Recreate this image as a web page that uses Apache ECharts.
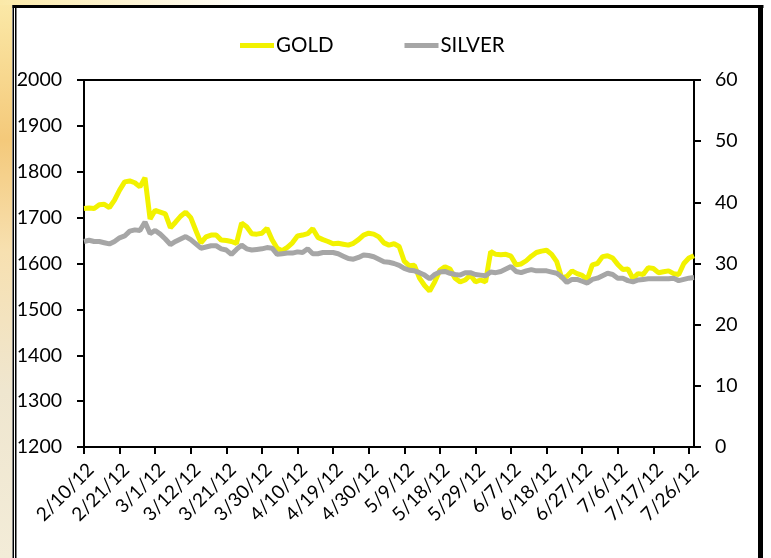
<!DOCTYPE html>
<html>
<head>
<meta charset="utf-8">
<script src="https://cdn.jsdelivr.net/npm/echarts@6/dist/echarts.min.js"></script>
<style>
html,body{margin:0;padding:0;background:#fff;}
#c{width:771px;height:558px;}
</style>
</head>
<body>
<div id="c"></div>
<script>
var dates = [
'2/10/12','2/13/12','2/14/12','2/15/12','2/16/12','2/17/12','2/20/12','2/21/12','2/22/12','2/23/12','2/24/12','2/27/12','2/28/12','2/29/12',
'3/1/12','3/2/12','3/5/12','3/6/12','3/7/12','3/8/12','3/9/12','3/12/12','3/13/12','3/14/12','3/15/12','3/16/12','3/19/12','3/20/12','3/21/12','3/22/12','3/23/12','3/26/12','3/27/12','3/28/12','3/29/12','3/30/12',
'4/2/12','4/3/12','4/4/12','4/5/12','4/6/12','4/9/12','4/10/12','4/11/12','4/12/12','4/13/12','4/16/12','4/17/12','4/18/12','4/19/12','4/20/12','4/23/12','4/24/12','4/25/12','4/26/12','4/27/12','4/30/12',
'5/1/12','5/2/12','5/3/12','5/4/12','5/7/12','5/8/12','5/9/12','5/10/12','5/11/12','5/14/12','5/15/12','5/16/12','5/17/12','5/18/12','5/21/12','5/22/12','5/23/12','5/24/12','5/25/12','5/28/12','5/29/12','5/30/12','5/31/12',
'6/1/12','6/4/12','6/5/12','6/6/12','6/7/12','6/8/12','6/11/12','6/12/12','6/13/12','6/14/12','6/15/12','6/18/12','6/19/12','6/20/12','6/21/12','6/22/12','6/25/12','6/26/12','6/27/12','6/28/12','6/29/12',
'7/2/12','7/3/12','7/4/12','7/5/12','7/6/12','7/9/12','7/10/12','7/11/12','7/12/12','7/13/12','7/16/12','7/17/12','7/18/12','7/19/12','7/20/12','7/23/12','7/24/12','7/25/12','7/26/12','7/27/12'
];

var gold = [
1720,1721,1720,1728,1729,1722,1738,1760,1778,1780,1776,1767,1787,1697,
1716,1712,1708,1678,1690,1703,1712,1700,1672,1645,1658,1662,1662,1651,1650,1648,1644,1688,1680,1665,1664,1666,
1677,1652,1633,1628,1635,1645,1660,1662,1665,1676,1657,1652,1648,1643,1644,1642,1640,1644,1652,1662,1666,
1664,1658,1645,1640,1643,1637,1605,1595,1596,1568,1552,1540,1560,1585,1593,1588,1568,1560,1564,1575,1560,1564,1560,
1626,1620,1619,1620,1616,1597,1599,1606,1616,1624,1627,1629,1620,1604,1568,1572,1584,1578,1574,1565,1597,
1600,1615,1617,1612,1598,1587,1588,1567,1578,1576,1591,1589,1580,1582,1584,1578,1576,1600,1612,1617
];

var silver = [
33.6,33.8,33.6,33.6,33.4,33.2,33.6,34.2,34.5,35.3,35.5,35.4,36.8,34.9,
35.4,34.8,34.0,33.1,33.6,34.0,34.4,33.9,33.2,32.5,32.7,32.9,32.9,32.4,32.2,31.5,32.3,33.0,32.4,32.2,32.3,32.4,
32.6,32.5,31.5,31.6,31.7,31.7,31.9,31.8,32.4,31.6,31.6,31.8,31.8,31.8,31.6,31.2,30.8,30.7,31.0,31.4,31.3,
31.1,30.7,30.3,30.2,30.0,29.7,29.2,28.9,28.8,28.5,28.1,27.5,28.2,28.6,28.7,28.4,28.2,28.1,28.5,28.5,28.2,28.1,28.0,
28.6,28.5,28.7,29.1,29.5,28.7,28.5,28.8,29.0,28.8,28.8,28.8,28.6,28.4,27.8,26.9,27.4,27.4,27.1,26.8,27.4,
27.6,28.0,28.4,28.2,27.6,27.6,27.2,27.0,27.3,27.4,27.5,27.5,27.5,27.5,27.5,27.6,27.2,27.4,27.6,27.7
];

var seriesNames = ['GOLD','SILVER'];
var leftTicks = {min:1200, max:2000, interval:100};
var rightTicks = {min:0, max:60, interval:10};

var FONT = 'Lato';
var chart = echarts.init(document.getElementById('c'), null, {renderer:'canvas'});
chart.setOption({
  backgroundColor:'#ffffff',
  animation:false,
  graphic:[
    {type:'rect', shape:{x:0,y:0,width:12,height:558}, z:-10,
     style:{fill:new echarts.graphic.LinearGradient(0,0,0,1,[
       {offset:0,color:'#fbe9a8'},{offset:0.25,color:'#f4c97a'},{offset:0.45,color:'#f7e0b0'},{offset:0.7,color:'#efe6cf'},{offset:1,color:'#f3ecd8'}])}},
    {type:'rect', shape:{x:0,y:0,width:260,height:5}, z:-10,
     style:{fill:new echarts.graphic.LinearGradient(0,0,1,0,[
       {offset:0,color:'#fbe9a8'},{offset:1,color:'#ffffff'}])}},
    {type:'rect', shape:{x:12.5,y:5,width:1.5,height:553}, style:{fill:'#000'}},
    {type:'rect', shape:{x:15,y:5,width:1.5,height:553}, style:{fill:'#000'}},
    {type:'rect', shape:{x:12.5,y:5,width:751,height:3}, style:{fill:'#000'}},
    {type:'rect', shape:{x:758,y:5,width:5,height:553}, style:{fill:'#000'}}
  ],
  legend:{
    data:seriesNames,
    left:235, top:30,
    itemWidth:34, itemHeight:5, itemGap:71,
    icon:'rect',
    textStyle:{fontFamily:FONT, fontSize:20.5, color:'#000', padding:[0,0,0,-3]}
  },
  grid:{left:84, right:77, top:80, bottom:111, show:true, borderColor:'#000', borderWidth:2, backgroundColor:'transparent'},
  xAxis:{
    type:'category', data:dates, boundaryGap:false,
    axisLine:{lineStyle:{color:'#000', width:2}},
    axisTick:{interval:6, length:7, lineStyle:{color:'#000', width:2}},
    axisLabel:{interval:6, rotate:45, margin:13, verticalAlign:'top', fontFamily:FONT, fontSize:19, color:'#000'},
    splitLine:{show:false}
  },
  yAxis:[
    {type:'value', min:leftTicks.min, max:leftTicks.max, interval:leftTicks.interval, position:'left',
     axisLine:{show:true, lineStyle:{color:'#000', width:2}},
     axisTick:{show:true, length:7, lineStyle:{color:'#000', width:2}},
     axisLabel:{margin:22, fontFamily:FONT, fontSize:19.5, color:'#000', formatter:function(v){return String(v);}},
     splitLine:{show:false}},
    {type:'value', min:rightTicks.min, max:rightTicks.max, interval:rightTicks.interval, position:'right',
     axisLine:{show:true, lineStyle:{color:'#000', width:2}},
     axisTick:{show:true, length:7, lineStyle:{color:'#000', width:2}},
     axisLabel:{margin:21, fontFamily:FONT, fontSize:19.5, color:'#000'},
     splitLine:{show:false}}
  ],
  series:[
    {name:seriesNames[0], type:'line', yAxisIndex:0, data:gold, showSymbol:false, symbol:'none',
     lineStyle:{color:'#F2F200', width:5}, itemStyle:{color:'#F2F200'}, z:2},
    {name:seriesNames[1], type:'line', yAxisIndex:1, data:silver, showSymbol:false, symbol:'none',
     lineStyle:{color:'#A6A6A6', width:5}, itemStyle:{color:'#A6A6A6'}, z:3}
  ]
});
</script>
</body>
</html>
